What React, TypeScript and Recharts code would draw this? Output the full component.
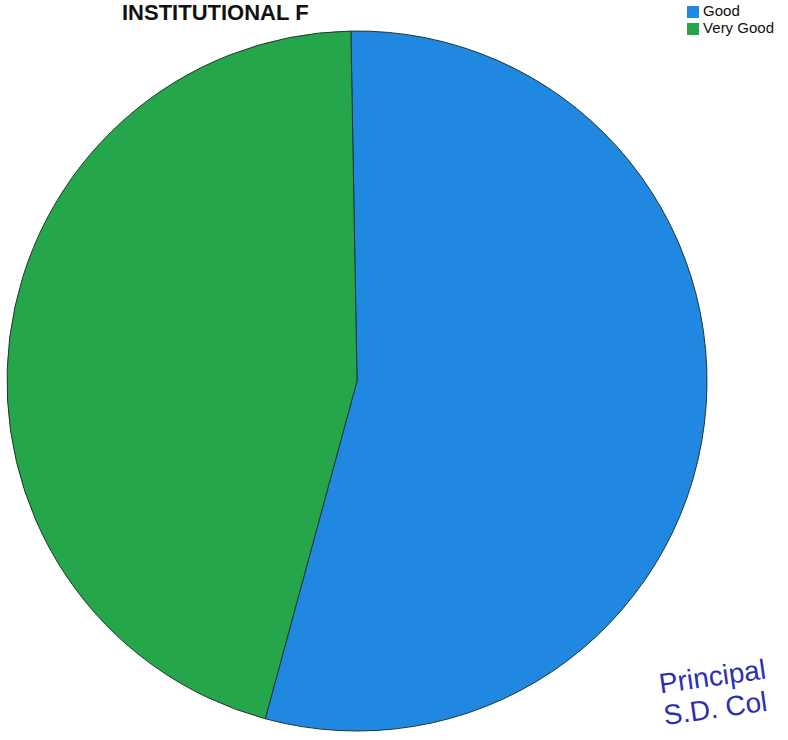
import { PieChart, Pie, Cell, Legend } from "recharts";

const categories = ["Good", "Very Good"];
const shares = [54.5, 45.5];
const COLORS = ["#2188e2", "#25a64a"];

const data = categories.map((name, i) => ({ name, value: shares[i] }));

export default function App() {
  return (
    <div
      style={{
        position: "absolute",
        top: 0,
        left: 0,
        width: 788,
        height: 740,
        background: "#fff",
        overflow: "hidden",
        fontFamily: "'Liberation Sans', Arial, sans-serif",
      }}
    >
      <div
        style={{
          position: "absolute",
          left: 122,
          top: 1,
          fontSize: 22,
          lineHeight: "24px",
          fontWeight: "bold",
          color: "#111",
          whiteSpace: "nowrap",
        }}
      >
        INSTITUTIONAL F
      </div>
      <PieChart width={788} height={740}>
        <Pie
          data={data}
          dataKey="value"
          nameKey="name"
          cx={352}
          cy={376}
          outerRadius={350}
          startAngle={91}
          endAngle={-269}
          stroke="#1d3a2a"
          strokeWidth={1}
          isAnimationActive={false}
        >
          {data.map((d, i) => (
            <Cell key={d.name} fill={COLORS[i]} />
          ))}
        </Pie>
        <Legend
          layout="vertical"
          align="right"
          verticalAlign="top"
          iconType="square"
          iconSize={12}
          wrapperStyle={{ top: 2, right: 4, fontSize: 15, lineHeight: "17px" }}
          formatter={(v) => <span style={{ color: "#111" }}>{v}</span>}
        />
      </PieChart>
      <div
        style={{
          position: "absolute",
          left: 666,
          top: 668,
          fontSize: 28,
          color: "#2b2fb0",
          transform: "rotate(-8deg)",
          transformOrigin: "left bottom",
          lineHeight: "32px",
          whiteSpace: "nowrap",
        }}
      >
        Principal
        <br />
        S.D. Col
      </div>
    </div>
  );
}
